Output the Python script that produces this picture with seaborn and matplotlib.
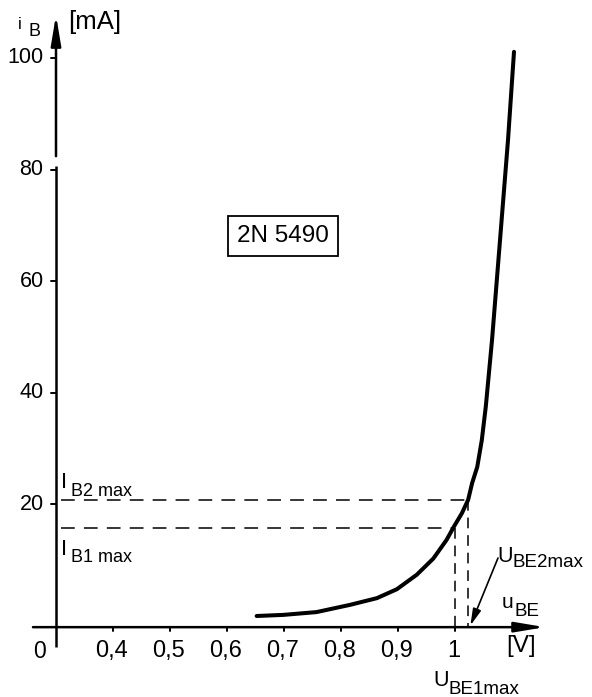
import numpy as np
import pandas as pd
import matplotlib
matplotlib.use("Agg")
import matplotlib.pyplot as plt
import matplotlib.transforms as mtransforms
import seaborn as sns

# Input characteristic of the 2N 5490 transistor: base current vs base-emitter voltage
u_be = [0.652, 0.699, 0.757, 0.816, 0.863, 0.898, 0.933, 0.962, 0.985, 0.998,
        1.012, 1.023, 1.030, 1.039, 1.047, 1.054, 1.065, 1.079, 1.093, 1.1035]
i_b = [0.0, 0.2, 0.7, 2.0, 3.2, 4.8, 7.4, 10.3, 13.6, 16.0,
       18.4, 20.8, 23.8, 26.7, 31.5, 37.5, 49.5, 67.4, 85.3, 101.1]

# operating limits marked on the curve
u_be1_max, i_b1_max = 1.0, 15.8
u_be2_max, i_b2_max = 1.023, 20.7

x_ticks = [0.4, 0.5, 0.6, 0.7, 0.8, 0.9, 1.0]
x_tick_labels = ["0,4", "0,5", "0,6", "0,7", "0,8", "0,9", "1"]
y_ticks = [20, 40, 60, 80, 100]
y_tick_labels = ["20", "40", "60", "80", "100"]

sns.set_theme(style="white")
plt.rcParams["font.family"] = ["Liberation Sans", "DejaVu Sans"]

W, H = 592, 697
fig = plt.figure(figsize=(W / 100, H / 100), dpi=100)
ax = fig.add_axes([0, 0, 1, 1])
ax.set_facecolor("white")

# axis frame: origin of the drawing at U = 0.3 V (broken scale), I axis line slightly below 0
x0 = 0.3
x_axis_y = -2.0
ax.set_xlim(0.20175, 1.24035)
ax.set_ylim(-14.516, 110.39)
for s in ax.spines.values():
    s.set_visible(False)

# pixel-space helper for free-standing labels
px = mtransforms.Affine2D().scale(1 / W, -1 / H).translate(0, 1) + fig.transFigure

AX_LW = 1.8
# horizontal axis with arrow
ax.annotate("", xy=(1.158, x_axis_y), xytext=(0.2596, x_axis_y),
            arrowprops=dict(arrowstyle="-|>,head_length=18,head_width=3",
                            mutation_scale=1, lw=AX_LW, color="black",
                            shrinkA=0, shrinkB=0))
# vertical axis: lower part, break, upper part with arrow
ax.plot([x0, x0], [-5.6, 80.6], color="black", lw=AX_LW, solid_capstyle="butt")
ax.annotate("", xy=(x0, 107.7), xytext=(x0, 82.4),
            arrowprops=dict(arrowstyle="-|>,head_length=18,head_width=3",
                            mutation_scale=1, lw=AX_LW, color="black",
                            shrinkA=0, shrinkB=0))

# ticks
for xt in x_ticks:
    ax.plot([xt, xt], [x_axis_y, x_axis_y - 0.7], color="black", lw=1.4)
for yt in y_ticks:
    ax.plot([x0 - 0.009, x0], [yt, yt], color="black", lw=1.4)

for xt, lab in zip(x_ticks, x_tick_labels):
    ax.annotate(lab, xy=(xt, x_axis_y), xytext=(-1, -9), textcoords="offset points",
                ha="center", va="top", fontsize=17, color="black")
for yt, lab in zip(y_ticks, y_tick_labels):
    ax.annotate(lab, xy=(x0, yt), xytext=(-9, 0), textcoords="offset points",
                ha="right", va="center", fontsize=15.5, color="black")

# the characteristic
curve = pd.DataFrame({"u_be": u_be, "i_b": i_b})
sns.lineplot(data=curve, x="u_be", y="i_b", sort=False, color="black",
             lw=2.9, ax=ax, legend=False)
ax.lines[-1].set_solid_joinstyle("round")
ax.lines[-1].set_solid_capstyle("round")
ax.set_xlabel("")
ax.set_ylabel("")
ax.set_xticks([])
ax.set_yticks([])

# dashed guide lines to the limit points
for u, i in [(u_be1_max, i_b1_max), (u_be2_max, i_b2_max)]:
    ax.plot([x0 + 0.008, u], [i, i], color="black", lw=1.1, linestyle=(0, (9, 6)))
    ax.plot([u, u], [i, x_axis_y], color="black", lw=1.1, linestyle=(0, (7, 4.5)))

# arrow pointing at U_BE2max on the voltage axis
ax.annotate("", xy=(u_be2_max + 0.004, x_axis_y + 0.3), xytext=(498, 558),
            textcoords=px,
            arrowprops=dict(arrowstyle="-|>,head_length=10,head_width=2.5",
                            mutation_scale=1, lw=1.2, color="black",
                            shrinkA=0, shrinkB=0))

def label(x, y, s, size, **kw):
    ax.text(x, y, s, transform=px, fontsize=size, color="black",
            ha=kw.pop("ha", "left"), va=kw.pop("va", "baseline"), **kw)

# axis names and units
label(18, 29, "i", 12)
label(28, 36, "B", 13)
label(95, 22, "[mA]", 18.5, ha="center", va="center")
label(40, 651, "0", 16.5, ha="center", va="center")
label(502, 608, "u", 15)
label(515, 616, "BE", 13.5)
label(521, 646, "[V]", 17.5, ha="center", va="center")

# limit labels
label(61, 488, "I", 16)
label(71, 496, "B2 max", 13)
label(61, 555, "I", 16)
label(71, 562, "B1 max", 13)
label(497, 562, "U", 15.5)
label(513, 567, "BE2max", 13.5)
label(433, 686, "U", 15.5)
label(449, 694, "BE1max", 13.5)

# device name in a box
label(283, 236, "2N 5490", 17.5, ha="center", va="center",
      bbox=dict(boxstyle="square,pad=0.38", fc="white", ec="black", lw=1.3))

fig.savefig("out.png", dpi=100, facecolor="white")
